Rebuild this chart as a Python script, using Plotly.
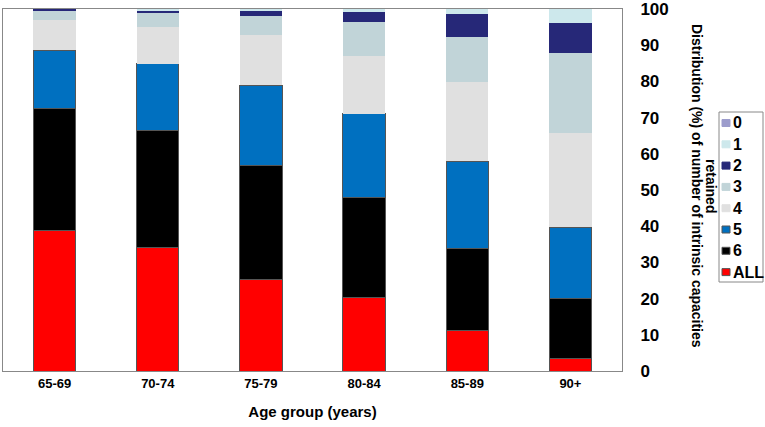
import plotly.graph_objects as go

age_groups = ["65-69", "70-74", "75-79", "80-84", "85-89", "90+"]

# percentages per number of intrinsic capacities retained (stacked bottom to top)
pct_all = [38.7, 34.2, 25.4, 20.3, 11.1, 3.5]
pct_6 = [33.8, 32.2, 31.4, 27.6, 22.8, 16.4]
pct_5 = [16.1, 18.5, 22.2, 23.2, 24.1, 19.8]
pct_4 = [8.3, 10.0, 13.8, 16.0, 21.7, 26.1]
pct_3 = [2.7, 3.9, 5.2, 9.2, 12.7, 22.0]
pct_2 = [0.4, 0.7, 1.4, 3.0, 6.2, 8.2]
pct_1 = [0.0, 0.5, 0.6, 0.7, 1.4, 4.0]
pct_0 = [0.0, 0.0, 0.0, 0.0, 0.0, 0.0]

series_names = ["ALL", "6", "5", "4", "3", "2", "1", "0"]
series_values = [pct_all, pct_6, pct_5, pct_4, pct_3, pct_2, pct_1, pct_0]
series_colors = ["#FF0000", "#000000", "#0070C0", "#E0E0E0", "#C1D4D8", "#262878", "#CDE8EC", "#9C9CCC"]
series_outline = [True, True, True, False, False, False, False, False]

font_family = "Liberation Sans, Arial, sans-serif"

# plot area in pixels (for placing legend/title outside the plot)
L, R, T, B = 3, 622, 9, 371
W, H = 765, 427


def px_x(px):
    return (px - L) / (R - L)


def px_y(py):
    return (B - py) / (B - T)


fig = go.Figure()
for name, vals, color, outline in zip(series_names, series_values, series_colors, series_outline):
    fig.add_trace(go.Bar(
        x=age_groups, y=vals, name=name, showlegend=False,
        marker=dict(color=color,
                    line=dict(color="#555555" if outline else color, width=1 if outline else 0)),
    ))

shapes = []
annotations = []

# legend box (drawn manually, top to bottom: 0,1,2,...,ALL)
shapes.append(dict(type="rect", xref="paper", yref="paper",
                   x0=px_x(719), x1=px_x(763), y0=px_y(282), y1=px_y(112),
                   line=dict(color="#888888", width=1), fillcolor="white", layer="above"))
legend_order = list(range(len(series_names)))[::-1]
for i, idx in enumerate(legend_order):
    cy = 123 + 21.3 * i
    shapes.append(dict(type="rect", xref="paper", yref="paper",
                       x0=px_x(722), x1=px_x(730), y0=px_y(cy + 3.5), y1=px_y(cy - 3.5),
                       line=dict(color="#555555" if series_outline[idx] else series_colors[idx], width=1),
                       fillcolor=series_colors[idx], layer="above"))
    annotations.append(dict(text=series_names[idx], xref="paper", yref="paper",
                            x=px_x(731), y=px_y(cy), xanchor="left", yanchor="middle",
                            showarrow=False,
                            font=dict(size=16, weight="bold", family=font_family)))

# rotated axis title (reads top to bottom)
annotations.append(dict(
    text="Distribution (%) of number of intrinsic capacities",
    xref="paper", yref="paper", x=px_x(697), y=px_y(186),
    xanchor="center", yanchor="middle", textangle=90, showarrow=False,
    font=dict(size=14, weight="bold", family=font_family)))
annotations.append(dict(
    text="retained",
    xref="paper", yref="paper", x=px_x(711), y=px_y(186),
    xanchor="center", yanchor="middle", textangle=90, showarrow=False,
    font=dict(size=14, weight="bold", family=font_family)))

fig.update_layout(
    width=W, height=H,
    barmode="stack", bargap=0.59,
    plot_bgcolor="white", paper_bgcolor="white",
    margin=dict(l=L, r=W - R, t=T, b=H - B, autoexpand=False),
    font=dict(family=font_family, color="black", weight="bold"),
    showlegend=False,
    xaxis=dict(
        automargin=False,
        showline=True, linecolor="#888888", linewidth=1, mirror=True,
        tickfont=dict(size=13, weight="bold"),
        title=dict(text="Age group (years)", font=dict(size=15, weight="bold"), standoff=16),
        ticks="",
    ),
    yaxis=dict(
        automargin=False,
        side="right", range=[0, 100], dtick=10,
        showgrid=False, zeroline=False,
        showline=True, linecolor="#888888", linewidth=1, mirror=True,
        ticks="outside", ticklen=14, tickcolor="rgba(0,0,0,0)",
        ticklabeloverflow="allow",
        tickfont=dict(size=17, weight="bold"),
    ),
    shapes=shapes,
    annotations=annotations,
)

fig.write_html("out.html", config={"displayModeBar": False},
               post_script="document.body.style.margin='0';document.body.style.padding='0';")
